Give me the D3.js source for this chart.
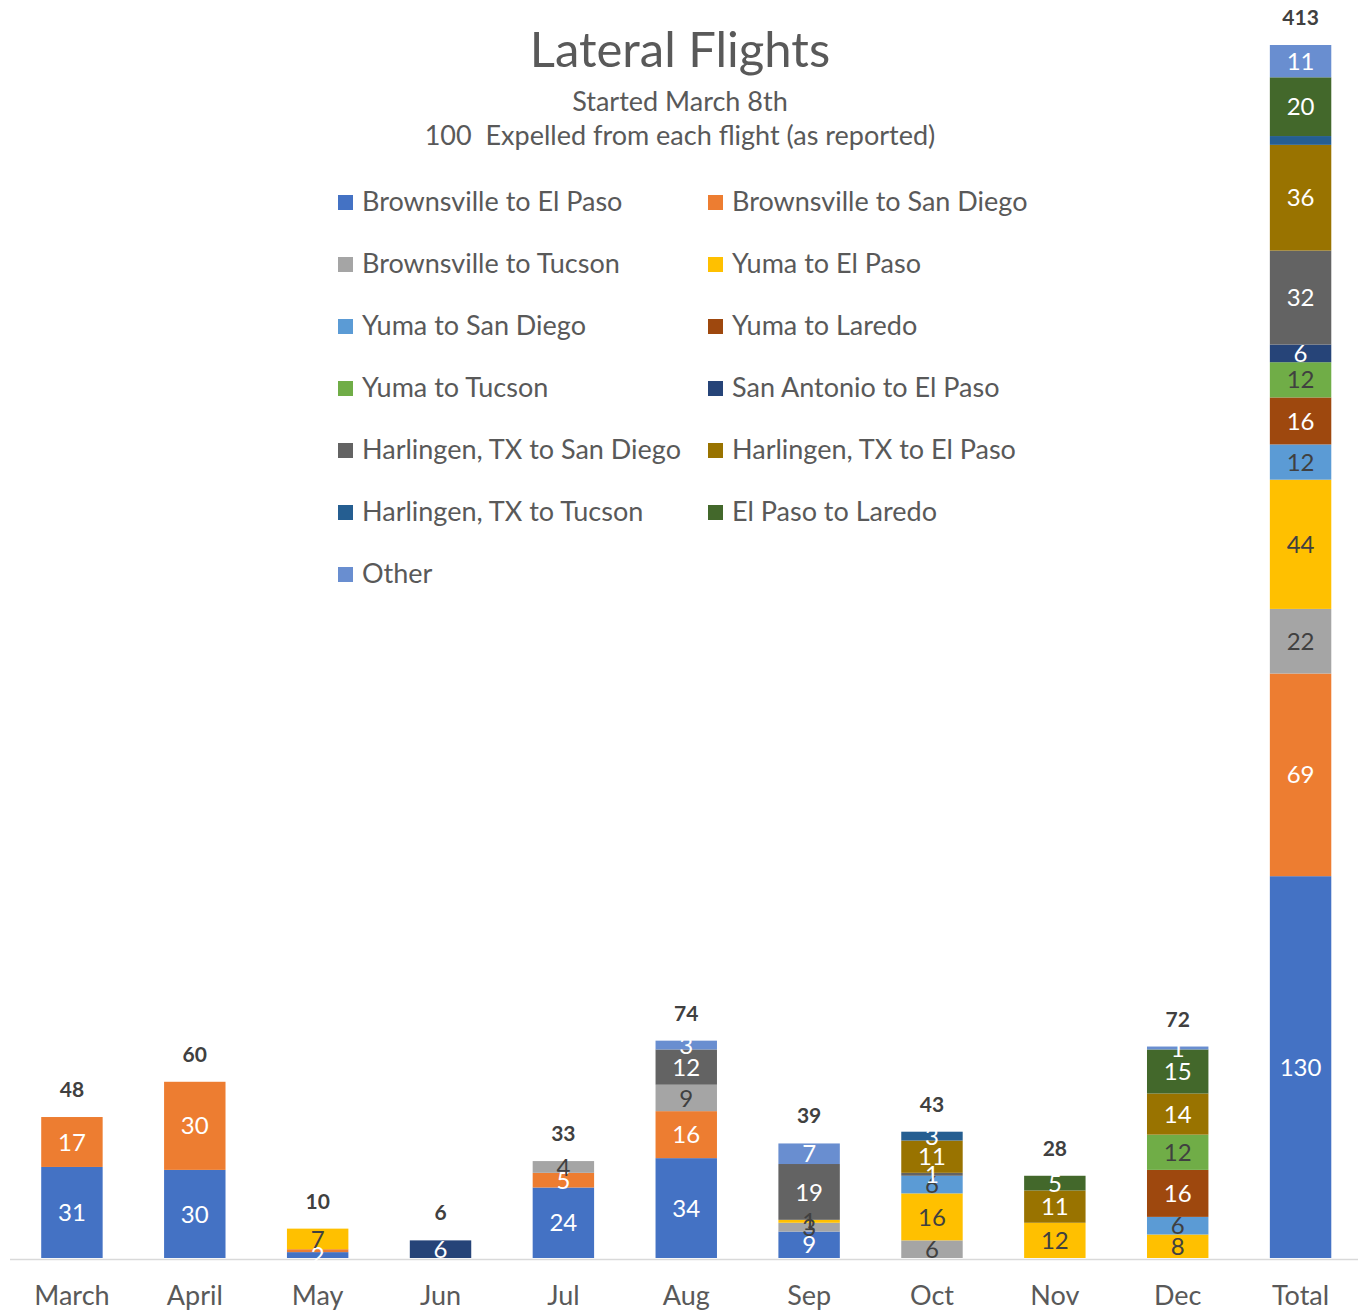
<!DOCTYPE html>
<html>
<head>
<meta charset="utf-8">
<script src="https://cdn.jsdelivr.net/npm/d3@7"></script>
<style>
  html, body { margin: 0; padding: 0; background: #fff; }
  svg { display: block; }
</style>
</head>
<body>
<svg id="chart" width="1358" height="1314"></svg>
<script>
// ---------- DATA ----------
const categories = ["March", "April", "May", "Jun", "Jul", "Aug", "Sep", "Oct", "Nov", "Dec", "Total"];

const seriesNames = [
  "Brownsville to El Paso", "Brownsville to San Diego", "Brownsville to Tucson",
  "Yuma to El Paso", "Yuma to San Diego", "Yuma to Laredo", "Yuma to Tucson",
  "San Antonio to El Paso", "Harlingen, TX to San Diego", "Harlingen, TX to El Paso",
  "Harlingen, TX to Tucson", "El Paso to Laredo", "Other"
];

const brownsvilleElPaso    = [31, 30, 2, 0, 24, 34, 9, 0, 0, 0, 130];
const brownsvilleSanDiego  = [17, 30, 1, 0, 5, 16, 0, 0, 0, 0, 69];
const brownsvilleTucson    = [0, 0, 0, 0, 4, 9, 3, 6, 0, 0, 22];
const yumaElPaso           = [0, 0, 7, 0, 0, 0, 1, 16, 12, 8, 44];
const yumaSanDiego         = [0, 0, 0, 0, 0, 0, 0, 6, 0, 6, 12];
const yumaLaredo           = [0, 0, 0, 0, 0, 0, 0, 0, 0, 16, 16];
const yumaTucson           = [0, 0, 0, 0, 0, 0, 0, 0, 0, 12, 12];
const sanAntonioElPaso     = [0, 0, 0, 6, 0, 0, 0, 0, 0, 0, 6];
const harlingenSanDiego    = [0, 0, 0, 0, 0, 12, 19, 1, 0, 0, 32];
const harlingenElPaso      = [0, 0, 0, 0, 0, 0, 0, 11, 11, 14, 36];
const harlingenTucson      = [0, 0, 0, 0, 0, 0, 0, 3, 0, 0, 3];
const elPasoLaredo         = [0, 0, 0, 0, 0, 0, 0, 0, 5, 15, 20];
const other                = [0, 0, 0, 0, 0, 3, 7, 0, 0, 1, 11];

const seriesValues = [
  brownsvilleElPaso, brownsvilleSanDiego, brownsvilleTucson, yumaElPaso,
  yumaSanDiego, yumaLaredo, yumaTucson, sanAntonioElPaso, harlingenSanDiego,
  harlingenElPaso, harlingenTucson, elPasoLaredo, other
];

const seriesColors = [
  "#4472C4", "#ED7D31", "#A5A5A5", "#FFC000", "#5B9BD5", "#9E480E", "#70AD47",
  "#264478", "#636363", "#997300", "#255E91", "#43682B", "#698ED0"
];
// label text colour per series (light fills get dark text)
const labelColors = [
  "#fff", "#fff", "#404040", "#404040", "#404040", "#fff", "#404040",
  "#fff", "#fff", "#fff", "#fff", "#fff", "#fff"
];
// segment labels not shown in the reference
const hiddenLabels = ["Harlingen, TX to Tucson|Total", "Brownsville to San Diego|May"];

const titleText = "Lateral Flights";
const subtitleLines = ["Started March 8th", "100  Expelled from each flight (as reported)"];

// ---------- BUILD ----------
const FONT = "Lato, 'Open Sans', sans-serif";
const svg = d3.select("#chart");

const rows = categories.map((c, i) => {
  const r = { category: c };
  seriesNames.forEach((s, j) => r[s] = seriesValues[j][i]);
  return r;
});
const totals = categories.map((c, i) => d3.sum(seriesValues, v => v[i]));

const stack = d3.stack().keys(seriesNames);
const stacked = stack(rows);

const x = d3.scaleBand().domain(categories).range([10.5, 1362]).paddingInner(0.5).paddingOuter(0.25);
const y = d3.scaleLinear().domain([0, d3.max(totals)]).range([1258, 45]);

// title
svg.append("text").attr("x", 680).attr("y", 67).attr("text-anchor", "middle")
  .attr("font-family", FONT).attr("font-size", 49).attr("fill", "#595959").text(titleText);
subtitleLines.forEach((t, i) => {
  svg.append("text").attr("x", 680).attr("y", 111 + i * 34).attr("text-anchor", "middle")
    .attr("font-family", FONT).attr("font-size", 27).attr("fill", "#595959")
    .style("white-space", "pre").text(t);
});

// legend
const legend = svg.append("g");
seriesNames.forEach((s, i) => {
  const col = i % 2, row = Math.floor(i / 2);
  const lx = col === 0 ? 338 : 708;
  const ly = 202 + row * 62;
  legend.append("rect").attr("x", lx).attr("y", ly - 7).attr("width", 15).attr("height", 15)
    .attr("fill", seriesColors[i]);
  legend.append("text").attr("x", lx + 24).attr("y", ly).attr("dy", "0.35em")
    .attr("font-family", FONT).attr("font-size", 27).attr("fill", "#595959").text(s);
});

// axis
const axis = svg.append("g").attr("transform", `translate(0,${y(0) + 1})`)
  .call(d3.axisBottom(x).tickSize(0).tickPadding(27));
axis.select(".domain").attr("stroke", "#D9D9D9").attr("stroke-width", 1.5)
  .attr("d", "M10,0.5H1358");
axis.selectAll(".tick text").attr("font-family", FONT).attr("font-size", 27).attr("fill", "#595959");

// bars
const layers = svg.append("g").selectAll("g").data(stacked).join("g")
  .attr("fill", (d, i) => seriesColors[i]);
layers.selectAll("rect").data(d => d.map(p => ({ p, cat: p.data.category })))
  .join("rect")
  .attr("x", d => x(d.cat))
  .attr("width", x.bandwidth())
  .attr("y", d => y(d.p[1]))
  .attr("height", d => Math.max(0, y(d.p[0]) - y(d.p[1])));

// segment labels
const labelG = svg.append("g");
stacked.forEach((layer, i) => {
  layer.forEach(p => {
    const v = p[1] - p[0];
    if (v <= 0) return;
    if (hiddenLabels.includes(seriesNames[i] + "|" + p.data.category)) return;
    labelG.append("text")
      .attr("x", x(p.data.category) + x.bandwidth() / 2)
      .attr("y", (y(p[0]) + y(p[1])) / 2)
      .attr("dy", "0.36em")
      .attr("text-anchor", "middle")
      .attr("font-family", FONT).attr("font-size", 24)
      .attr("fill", labelColors[i])
      .text(v);
  });
});

// total labels
categories.forEach((c, i) => {
  svg.append("text")
    .attr("x", x(c) + x.bandwidth() / 2)
    .attr("y", y(totals[i]) - 20)
    .attr("text-anchor", "middle")
    .attr("font-family", FONT).attr("font-size", 21).attr("font-weight", "bold")
    .attr("fill", "#404040")
    .text(totals[i]);
});
</script>
</body>
</html>
